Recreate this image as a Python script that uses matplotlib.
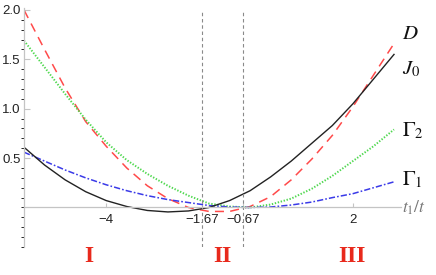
import numpy as np
import matplotlib
matplotlib.use('Agg')
import matplotlib.pyplot as plt

t_ratio = [-6.0, -5.5, -5.0, -4.5, -4.0, -3.5, -3.0, -2.5, -2.0, -1.5,
           -1.0, -0.5, 0.0, 0.5, 1.0, 1.5, 2.0, 2.5, 3.0]
D = [2.00, 1.60, 1.21, 0.87, 0.62, 0.40, 0.22, 0.09, 0.00, -0.04,
     -0.04, 0.01, 0.11, 0.28, 0.49, 0.73, 1.02, 1.34, 1.66]
J0 = [0.61, 0.43, 0.28, 0.16, 0.07, 0.01, -0.03, -0.045, -0.035, 0.00,
      0.07, 0.17, 0.31, 0.47, 0.65, 0.83, 1.05, 1.30, 1.55]
gamma2 = [1.69, 1.42, 1.15, 0.89, 0.66, 0.48, 0.34, 0.22, 0.12, 0.04,
          0.01, 0.00, 0.03, 0.09, 0.19, 0.32, 0.47, 0.62, 0.79]
gamma1 = [0.56, 0.47, 0.38, 0.30, 0.23, 0.17, 0.12, 0.08, 0.05, 0.02,
          0.005, 0.0, 0.005, 0.025, 0.055, 0.10, 0.14, 0.20, 0.26]

boundaries = [-1.67, -0.67]
xtick_pos = [-4, -1.67, -0.67, 2]
xtick_labels = ['\u22124', '\u22121.67', '\u22120.67', '2']
ytick_pos = [0.5, 1.0, 1.5, 2.0]
ytick_labels = ['0.5', '1.0', '1.5', '2.0']
curve_labels = [(r'$D$', 1.76), (r'$J_0$', 1.40), (r'$\Gamma_2$', 0.78), (r'$\Gamma_1$', 0.28)]
regions = [('I', -4.42), ('II', -1.18), ('III', 1.98)]

plt.rcParams['font.family'] = ['Liberation Sans', 'DejaVu Sans']
plt.rcParams['mathtext.fontset'] = 'stix'
plt.rcParams['lines.scale_dashes'] = False

fig = plt.figure(figsize=(4.36, 2.75), dpi=100)
ax = fig.add_axes([24 / 436, 28 / 275, 377 / 436, 239 / 275])
ax.set_xlim(-6, 3.17)
ax.set_ylim(-0.4, 2.02)

ax.plot(t_ratio, D, color='#ff4a4a', lw=1.1, dashes=(6.5, 4.5))
ax.plot(t_ratio, gamma2, color='#4fd84f', lw=1.4, dashes=(1.0, 1.2))
ax.plot(t_ratio, gamma1, color='#3a3ae8', lw=1.1, dashes=(4.5, 1.5, 1.2, 1.5))
ax.plot(t_ratio, J0, color='#222222', lw=1.0)

ax.vlines(boundaries, -0.4, 2.0, colors='#8a8a8a', lw=0.8, linestyles=(0, (2.5, 2)))

# mathematica style axes
for s in ['top', 'right']:
    ax.spines[s].set_visible(False)
ax.spines['bottom'].set_position(('data', 0))
for s in ['left', 'bottom']:
    ax.spines[s].set_color('#c4c4c4')
    ax.spines[s].set_linewidth(0.9)

ax.set_xticks(xtick_pos)
ax.set_xticklabels(xtick_labels)
ax.set_yticks(ytick_pos)
ax.set_yticklabels(ytick_labels)
ax.set_yticks(np.arange(-0.4, 2.01, 0.1), minor=True)
ax.tick_params(axis='both', direction='in', color='#c4c4c4', labelsize=9.5,
               labelcolor='#222222')
ax.tick_params(axis='x', length=3, pad=4.5)
ax.tick_params(axis='y', which='major', length=4, pad=2.5)
ax.tick_params(axis='y', which='minor', length=2)

ax.text(3.2, 0.0, r'$t_1/t$', color='#777777', fontsize=12.5, ha='left', va='center')

for txt, y in curve_labels:
    ax.text(3.19, y, txt, fontsize=15, ha='left', va='center', color='#111111')

for txt, x in regions:
    ax.text(x, -0.5, txt, color='#e8291c', fontsize=17, fontweight='bold',
            family='Liberation Serif', ha='center', va='center')

fig.savefig('out.png', dpi=100)
